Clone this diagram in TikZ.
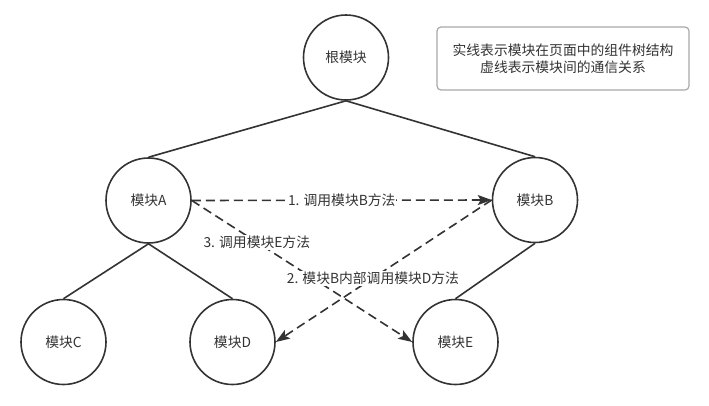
\documentclass[tikz,border=0pt]{standalone}
\usepackage{fontspec}
\setmainfont{Noto Sans CJK SC}
\usetikzlibrary{arrows.meta}
\definecolor{ink}{HTML}{333333}
\definecolor{boxline}{HTML}{A8A8A8}
\begin{document}
\begin{tikzpicture}[x=1pt,y=-1pt,
  every node/.style={font=\fontsize{13.8}{16}\selectfont, text=ink},
  modnode/.style={circle, draw=ink, line width=1.6pt, minimum size=85pt, inner sep=0pt, fill=white},
  treeedge/.style={draw=ink, line width=1.6pt},
  callarrow/.style={draw=ink, line width=1.6pt, dash pattern=on 9pt off 5pt, -{Stealth[length=14pt,width=10pt,inset=3pt]}},
  calllabel/.style={fill=white, inner sep=1pt}
]
\useasboundingbox (0,0) rectangle (709,405);
\node[modnode] (root) at (346,57.5) {根模块};
\node[modnode] (A) at (148.5,200.5) {模块A};
\node[modnode] (B) at (535,200) {模块B};
\node[modnode] (C) at (63.5,342) {模块C};
\node[modnode] (D) at (232.5,342) {模块D};
\node[modnode] (E) at (455.5,342) {模块E};

\node[draw=boxline, line width=1.2pt, rounded corners=4pt, minimum width=252pt, minimum height=63pt, align=center, inner sep=0pt] (legend) at (563,58.5) {实线表示模块在页面中的组件树结构\\[1pt]虚线表示模块间的通信关系};

\draw[treeedge] (root.south) -- (A.north);
\draw[treeedge] (root.south) -- (B.north);
\draw[treeedge] (A.south) -- (C.north);
\draw[treeedge] (A.south) -- (D.north);
\draw[treeedge] (B.south) -- (E.north);

\draw[callarrow] (A.east) -- (B.west) node[calllabel, pos=0.5] (l1) {1. 调用模块B方法};
\draw[callarrow] (A.east) -- (E.west) node[calllabel, pos=0.295] (l3) {3. 调用模块E方法};
\draw[callarrow] (B.west) -- (D.east) node[calllabel, pos=0.55] (l2) {2. 模块B内部调用模块D方法};
\end{tikzpicture}
\end{document}
